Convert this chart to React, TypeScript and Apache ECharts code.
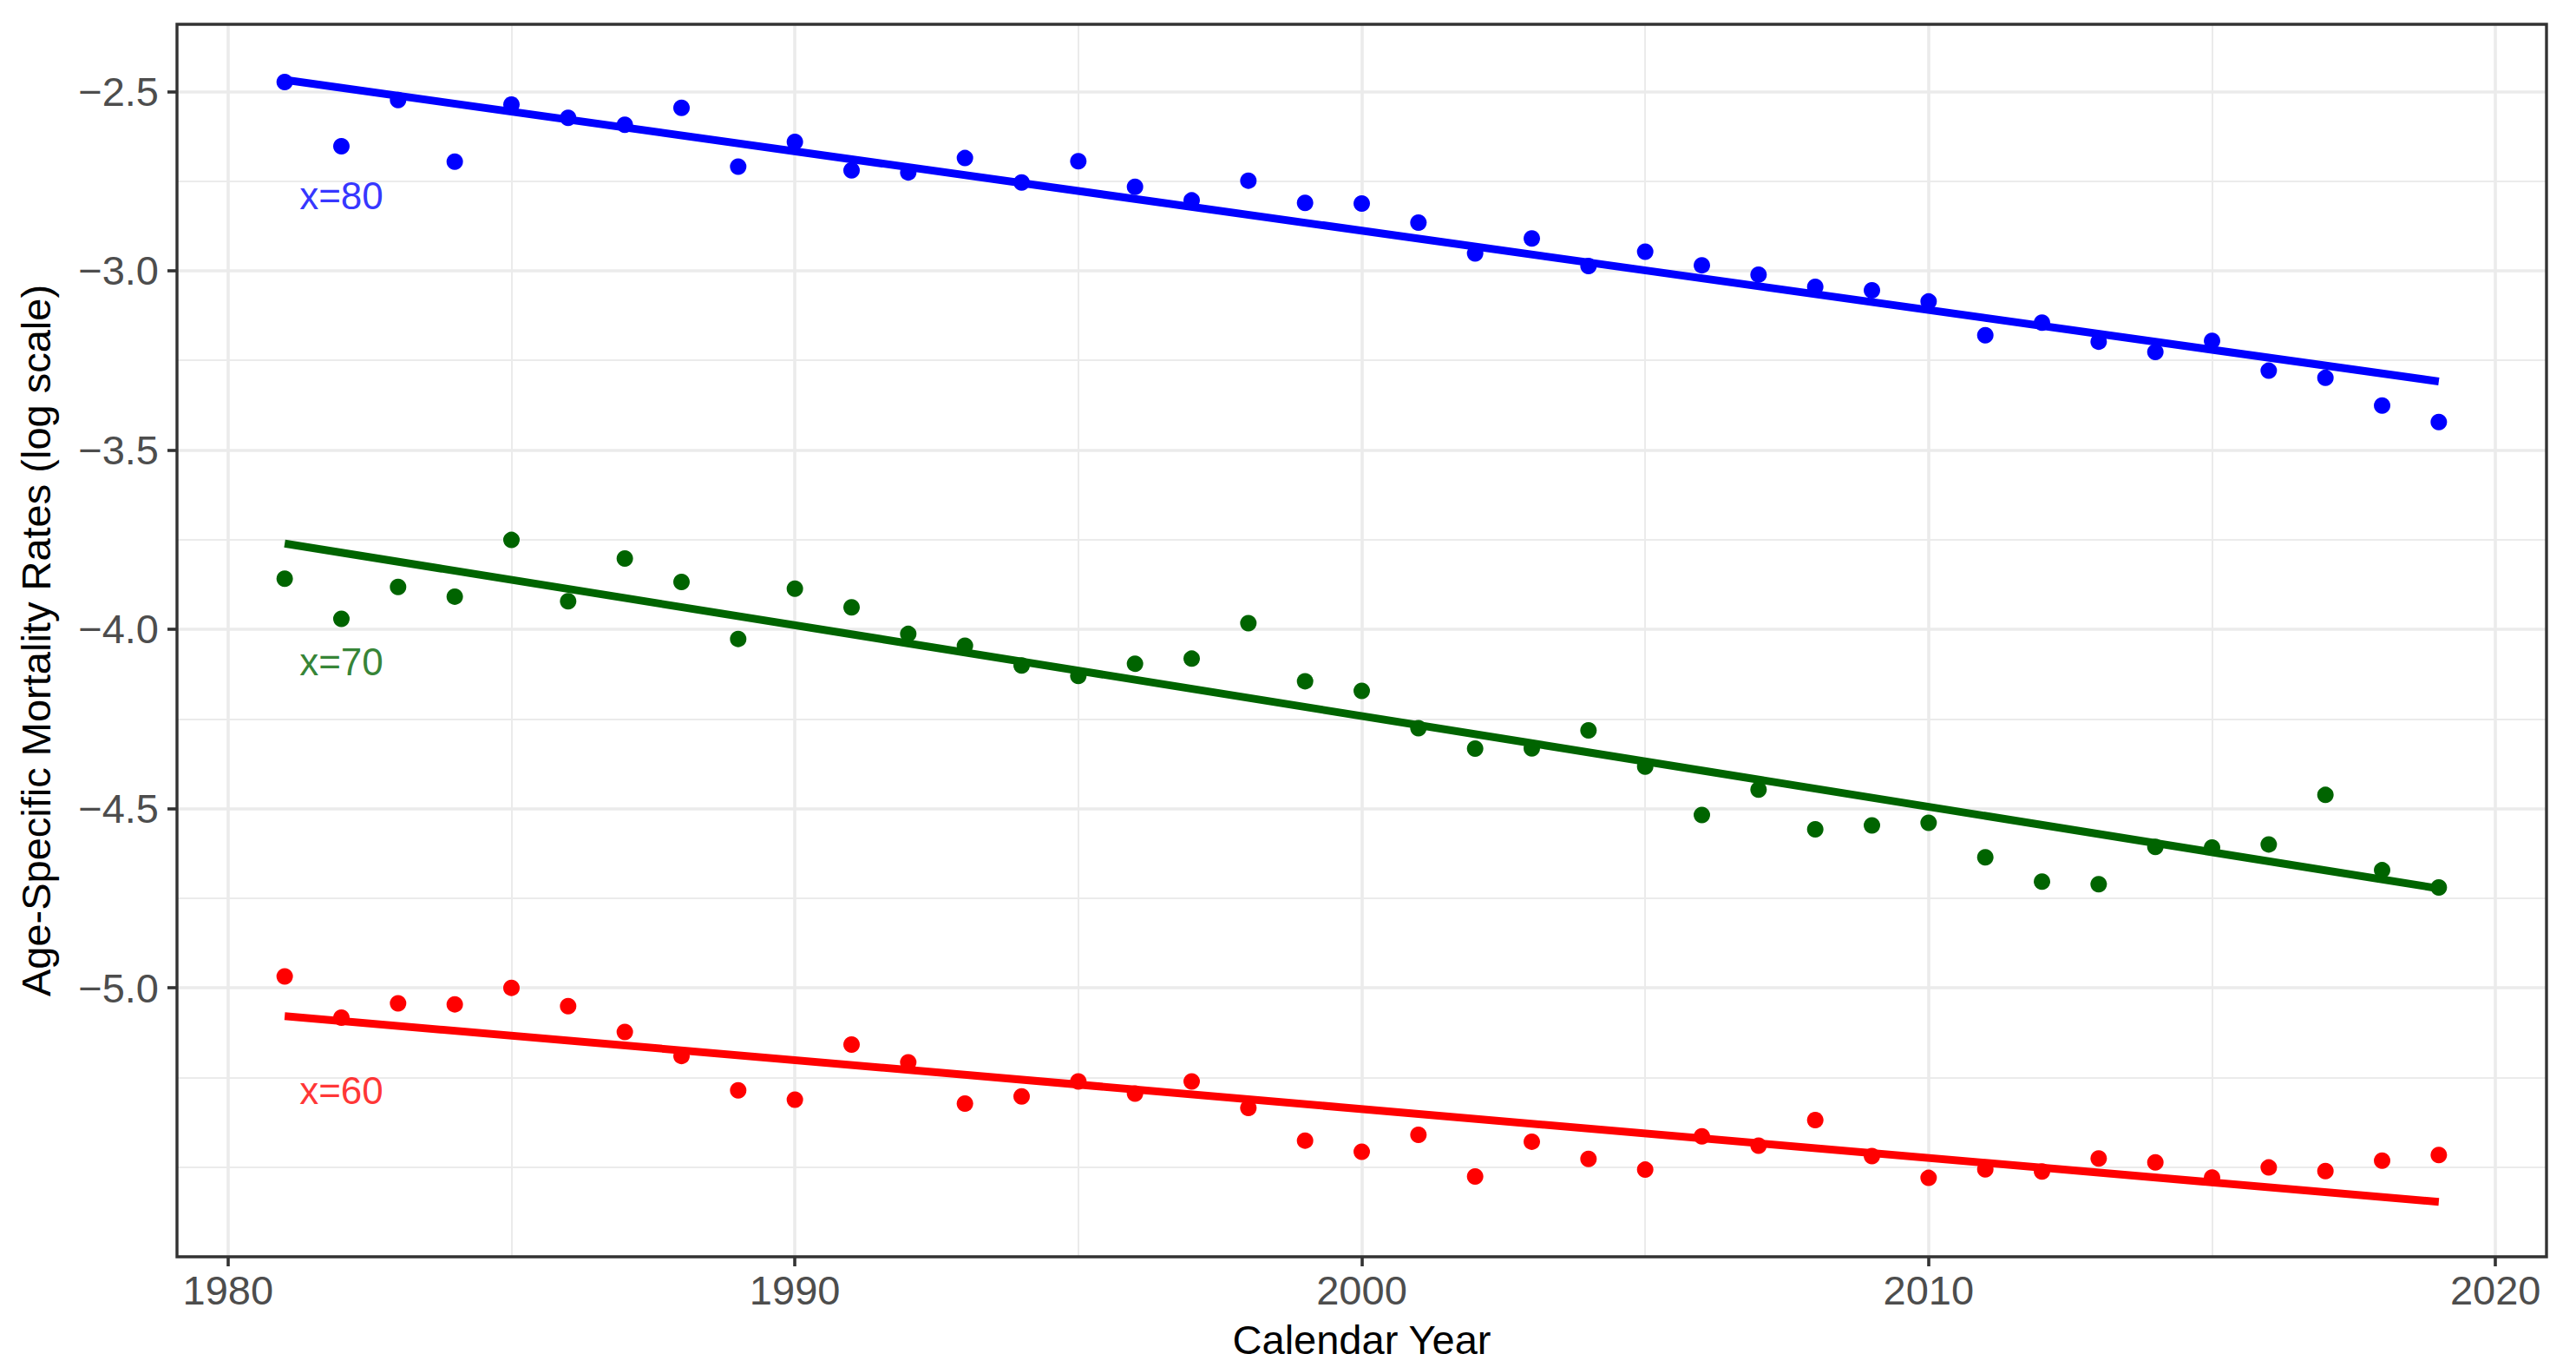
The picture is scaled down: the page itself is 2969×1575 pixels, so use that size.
import React, { useEffect, useRef } from 'react';
import * as echarts from 'echarts';

const years = [
  1981, 1982, 1983, 1984, 1985, 1986, 1987, 1988, 1989, 1990,
  1991, 1992, 1993, 1994, 1995, 1996, 1997, 1998, 1999, 2000,
  2001, 2002, 2003, 2004, 2005, 2006, 2007, 2008, 2009, 2010,
  2011, 2012, 2013, 2014, 2015, 2016, 2017, 2018, 2019,
];

const rate80 = [
  -2.474, -2.653, -2.524, -2.696, -2.537, -2.574, -2.593, -2.546, -2.710, -2.641,
  -2.720, -2.726, -2.686, -2.754, -2.695, -2.766, -2.804, -2.749, -2.811, -2.813,
  -2.866, -2.952, -2.910, -2.987, -2.947, -2.985, -3.011, -3.045, -3.055, -3.086,
  -3.180, -3.145, -3.198, -3.227, -3.196, -3.279, -3.299, -3.376, -3.422,
];

const rate70 = [
  -3.859, -3.971, -3.882, -3.909, -3.751, -3.922, -3.803, -3.868, -4.027, -3.887,
  -3.939, -4.013, -4.046, -4.101, -4.130, -4.096, -4.082, -3.983, -4.145, -4.172,
  -4.276, -4.333, -4.332, -4.282, -4.383, -4.518, -4.447, -4.558, -4.547, -4.540,
  -4.636, -4.704, -4.711, -4.607, -4.609, -4.600, -4.462, -4.672, -4.720,
];

const rate60 = [
  -4.968, -5.083, -5.043, -5.046, -5.000, -5.051, -5.123, -5.190, -5.286, -5.312,
  -5.158, -5.208, -5.323, -5.303, -5.261, -5.295, -5.261, -5.335, -5.426, -5.457,
  -5.410, -5.526, -5.429, -5.477, -5.507, -5.414, -5.440, -5.369, -5.469, -5.530,
  -5.506, -5.512, -5.476, -5.487, -5.529, -5.501, -5.511, -5.482, -5.466,
];

const fitYears = [1981, 2019];
const fit80 = [-2.468, -3.309];
const fit70 = [-3.761, -4.723];
const fit60 = [-5.079, -5.597];

const groupLabels = ['x=80', 'x=70', 'x=60'];
const labelYear = 1982;
const labelValues = [-2.79, -4.09, -5.287];
const colors = ['#0000FF', '#006400', '#FF0000'];

const xTicks = [1980, 1990, 2000, 2010, 2020];
const xMinor = [1985, 1995, 2005, 2015];
const yTicks = [-5.0, -4.5, -4.0, -3.5, -3.0, -2.5];
const yMinor = [-5.5, -5.25, -4.75, -4.25, -3.75, -3.25, -2.75];

const FONT = '"Liberation Sans", Arial, sans-serif';

export default function App() {
  const ref = useRef<HTMLDivElement>(null);

  useEffect(() => {
    if (!ref.current) return;
    const chart = echarts.init(ref.current, undefined, { renderer: 'svg' });

    const groups = [
      { name: 'x=80', rates: rate80, fit: fit80, color: colors[0] },
      { name: 'x=70', rates: rate70, fit: fit70, color: colors[1] },
      { name: 'x=60', rates: rate60, fit: fit60, color: colors[2] },
    ];

    const gridLines: any[] = [
      ...xMinor.map((v) => ({ xAxis: v, lineStyle: { width: 2, color: '#EBEBEB', type: 'solid' } })),
      ...yMinor.map((v) => ({ yAxis: v, lineStyle: { width: 2, color: '#EBEBEB', type: 'solid' } })),
      ...xTicks.map((v) => ({ xAxis: v, lineStyle: { width: 3.6, color: '#EBEBEB', type: 'solid' } })),
      ...yTicks.map((v) => ({ yAxis: v, lineStyle: { width: 3.6, color: '#EBEBEB', type: 'solid' } })),
    ];

    const series: any[] = [];
    groups.forEach((g, gi) => {
      series.push({
        type: 'scatter',
        name: g.name + ' points',
        data: years.map((y, i) => [y, g.rates[i]]),
        symbol: 'circle',
        symbolSize: 19,
        itemStyle: { color: g.color, opacity: 1 },
        z: 3,
        ...(gi === 0
          ? {
              markLine: {
                silent: true,
                z: -1,
                symbol: ['none', 'none'],
                label: { show: false },
                animation: false,
                data: gridLines,
              },
            }
          : {}),
      });
      series.push({
        type: 'line',
        name: g.name + ' fit',
        data: fitYears.map((y, i) => [y, g.fit[i]]),
        showSymbol: false,
        symbol: 'none',
        lineStyle: { color: g.color, width: 9, cap: 'butt', opacity: 1 },
        z: 4,
      });
    });

    series.push({
      type: 'scatter',
      name: 'labels',
      data: groupLabels.map((t, i) => ({
        name: t,
        value: [labelYear, labelValues[i]],
        label: { color: colors[i] },
      })),
      symbolSize: 0,
      silent: true,
      z: 5,
      label: {
        show: true,
        position: 'inside',
        formatter: '{b}',
        fontSize: 44,
        fontFamily: FONT,
      },
    });

    chart.setOption({
      animation: false,
      backgroundColor: '#FFFFFF',
      textStyle: { fontFamily: FONT },
      grid: {
        left: 204,
        top: 28,
        right: 34,
        bottom: 127,
        show: true,
        borderColor: '#333333',
        borderWidth: 3.4,
        backgroundColor: 'transparent',
        containLabel: false,
      },
      xAxis: {
        type: 'value',
        min: 1979.1,
        max: 2020.9,
        axisLine: { show: false },
        splitLine: { show: false },
        axisTick: {
          show: true,
          length: 11,
          lineStyle: { color: '#333333', width: 3.6 },
          customValues: xTicks,
        },
        axisLabel: {
          show: true,
          margin: 15,
          fontSize: 47,
          color: '#4D4D4D',
          fontFamily: FONT,
          customValues: xTicks,
          formatter: (v: number) => String(v),
        },
      },
      yAxis: {
        type: 'value',
        min: -5.75,
        max: -2.313,
        axisLine: { show: false },
        splitLine: { show: false },
        axisTick: {
          show: true,
          length: 11,
          lineStyle: { color: '#333333', width: 3.6 },
          customValues: yTicks,
        },
        axisLabel: {
          show: true,
          margin: 21,
          fontSize: 47,
          color: '#4D4D4D',
          fontFamily: FONT,
          customValues: yTicks,
          formatter: (v: number) => (v < 0 ? '\u2212' : '') + Math.abs(v).toFixed(1),
        },
      },
      graphic: [
        {
          type: 'text',
          x: 1569.5,
          y: 1543,
          style: {
            text: 'Calendar Year',
            fontSize: 47,
            fontFamily: FONT,
            fill: '#000000',
            align: 'center',
            verticalAlign: 'middle',
          },
        },
        {
          type: 'text',
          x: 41,
          y: 738,
          rotation: Math.PI / 2,
          style: {
            text: 'Age-Specific Mortality Rates (log scale)',
            fontSize: 47,
            fontFamily: FONT,
            fill: '#000000',
            align: 'center',
            verticalAlign: 'middle',
          },
        },
      ],
      series,
    });

    return () => {
      chart.dispose();
    };
  }, []);

  return (
    <div
      ref={ref}
      style={{ position: 'fixed', left: 0, top: 0, width: 2969, height: 1575, background: '#FFFFFF' }}
    />
  );
}
